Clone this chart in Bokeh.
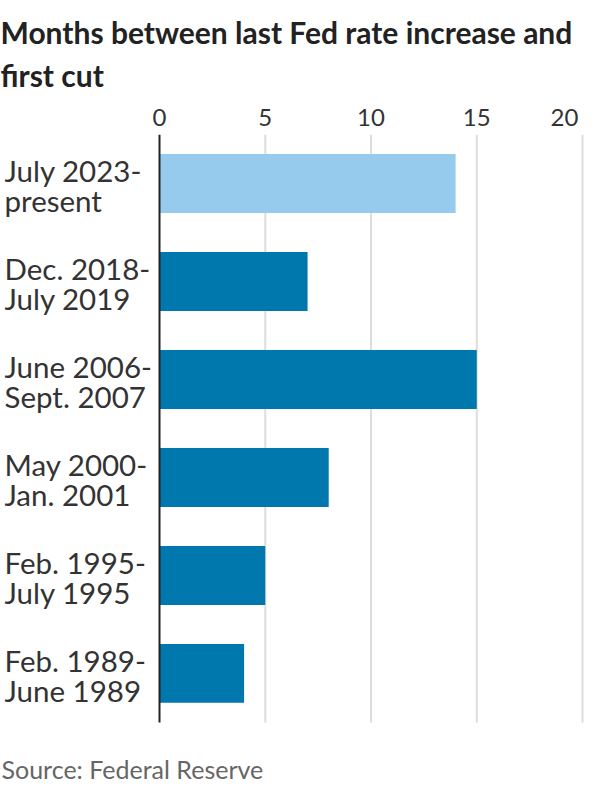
from bokeh.plotting import figure
from bokeh.models import Range1d, FixedTicker, ColumnDataSource
from bokeh.core.properties import value
from bokeh.embed import file_html
from bokeh.resources import INLINE

# ---- data ----
period_start = ["July 2023-", "Dec. 2018-", "June 2006-", "May 2000-", "Feb. 1995-", "Feb. 1989-"]
period_end = ["present", "July 2019", "Sept. 2007", "Jan. 2001", "July 1995", "June 1989"]
months = [14, 7, 15, 8, 5, 4]
bar_colors = ["#96cbee", "#0077ad", "#0077ad", "#0077ad", "#0077ad", "#0077ad"]
ticks = [0, 5, 10, 15, 20]
title_text = "Months between last Fed rate increase and\nfirst cut"
source_text = "Source: Federal Reserve"

X_START, X_END = -7.518, 20.094
Y_TOP, Y_BOTTOM = -0.5, 6.133
FONT = "Lato"

pos = list(range(len(months)))
src = ColumnDataSource(dict(y=pos, right=months, color=bar_colors,
                            l1=period_start, l2=period_end,
                            lx=[X_START] * len(pos)))

p = figure(width=584, height=784,
           x_range=Range1d(X_START, X_END), y_range=Range1d(Y_BOTTOM, Y_TOP),
           x_axis_location="above", y_axis_location=None,
           output_backend="svg", toolbar_location=None,
           min_border_left=0, min_border_right=0, min_border_bottom=0,
           min_border_top=134)
p.outline_line_color = None
p.xgrid.visible = False
p.ygrid.visible = False

# title
p.title.text = title_text
p.title.text_font = FONT
p.title.text_font_style = "bold"
p.title.text_font_size = "30px"
p.title.text_color = "#222222"
p.title.align = "left"
p.title.text_line_height = 1.2
p.title.standoff = 10

# top axis
ax = p.xaxis[0]
ax.ticker = FixedTicker(ticks=ticks)
ax.axis_line_color = None
ax.major_tick_line_color = None
ax.minor_tick_line_color = None
ax.major_label_text_font = FONT
ax.major_label_text_font_size = "24px"
ax.major_label_text_color = "#333333"
ax.major_label_standoff = -2
ax.major_label_overrides = {20: "20\u00a0"}

# grid lines
gt = [t for t in ticks if t != 0]
p.segment(x0=gt, x1=gt, y0=[Y_TOP] * len(gt), y1=[len(pos) - 0.5] * len(gt),
          line_color="#dddddd", line_width=2)

# bars
p.hbar(y="y", right="right", left=0, height=0.6, fill_color="color",
       line_color=None, source=src)

# zero axis line
p.segment(x0=[0], x1=[0], y0=[Y_TOP], y1=[len(pos) - 0.5],
          line_color="#222222", line_width=2)

# category labels
p.text(x="lx", y="y", text="l1", source=src, text_font=value(FONT),
       text_font_size="29.5px", text_color="#333333", text_align="left",
       text_baseline="alphabetic", x_offset=4, y_offset=-13)
p.text(x="lx", y="y", text="l2", source=src, text_font=value(FONT),
       text_font_size="29.5px", text_color="#333333", text_align="left",
       text_baseline="alphabetic", x_offset=4, y_offset=17)

# source note
p.text(x=[X_START], y=[5.97], text=[source_text], text_font=value(FONT),
       text_font_size="25px", text_color="#666666", text_align="left",
       text_baseline="alphabetic", x_offset=1)

open("out.html", "w").write(file_html(p, INLINE))
